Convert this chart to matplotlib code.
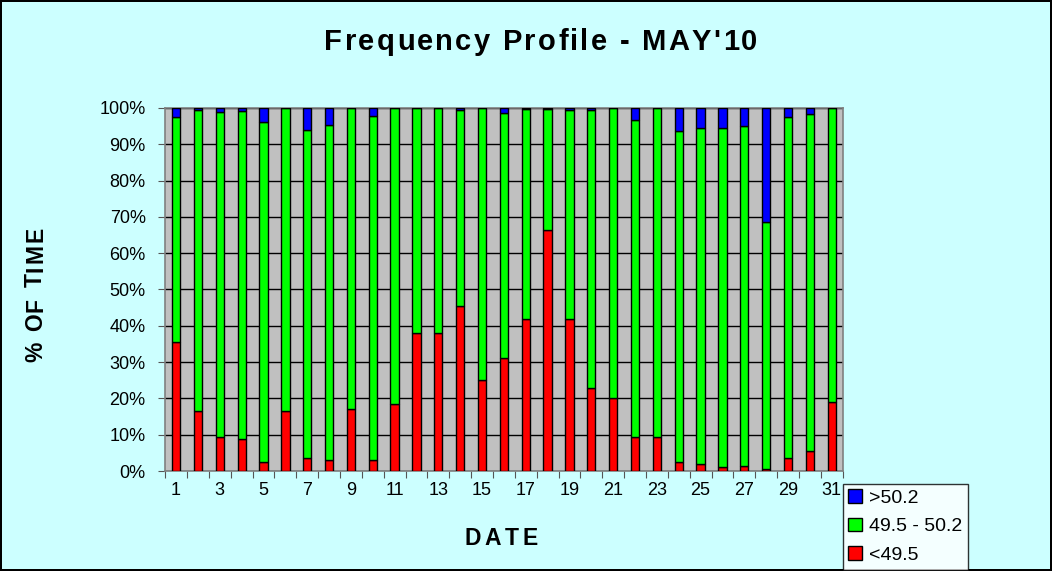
import numpy as np
import matplotlib
matplotlib.use("Agg")
from matplotlib import pyplot as plt
from matplotlib.ticker import FixedLocator, PercentFormatter
from matplotlib.transforms import IdentityTransform

plt.rcParams['font.family'] = ['Liberation Sans', 'DejaVu Sans']

dates = list(range(1, 32))
low = [35.5, 16.5, 9.5, 8.8, 2.5, 16.5, 3.5, 3.0, 17.0, 3.0, 18.5, 38.0, 38.0, 45.5, 25.0, 31.0,
       42.0, 66.5, 42.0, 23.0, 20.0, 9.5, 9.5, 2.5, 2.0, 1.0, 1.5, 0.5, 3.5, 5.5, 19.0]
high = [2.6, 0.7, 1.0, 0.8, 3.9, 0.0, 6.0, 4.7, 0.0, 2.2, 0.0, 0.0, 0.0, 0.5, 0.0, 1.3,
        0.3, 0.2, 0.6, 0.5, 0.0, 3.3, 0.0, 6.4, 5.6, 5.6, 5.1, 31.5, 2.6, 1.7, 0.0]
mid = [100 - a - b for a, b in zip(low, high)]


def spaced_text(fig, s, center, base, size, length, vertical=False):
    # excel-like letter spacing: place chars one by one in pixel coords
    r = fig.canvas.get_renderer()

    def width(txt):
        t = fig.text(0, 0, txt, fontsize=size, fontweight="bold")
        w = t.get_window_extent(r).width
        t.remove()
        return w

    ref = width("HH")
    widths = [width("H" + ch + "H") - ref for ch in s]
    gap = (length - sum(widths)) / (len(s) - 1)
    pos = center - length / 2
    for ch, w in zip(s, widths):
        if vertical:
            xy = (base, pos)
        else:
            xy = (pos, base)
        fig.text(*xy, ch, fontsize=size, fontweight="bold", transform=IdentityTransform(),
                 ha="left", va="baseline", rotation=90 if vertical else 0, rotation_mode="anchor")
        pos += w + gap


fig = plt.figure(figsize=(10.52, 5.71), dpi=100, facecolor="#CCFFFF",
                 edgecolor="black", linewidth=1.5)
ax = fig.add_axes([0.157, 0.175, 0.644, 0.636])
ax.set_facecolor("#C0C0C0")

x = np.arange(len(dates))
w = 0.38
ax.bar(x, low, w, color="#FF0000", edgecolor="black", linewidth=1, label="<49.5", zorder=3)
ax.bar(x, mid, w, bottom=low, color="#00FF00", edgecolor="black", linewidth=1,
       label="49.5 - 50.2", zorder=3)
ax.bar(x, high, w, bottom=np.array(low) + np.array(mid), color="#0000FF", edgecolor="black",
       linewidth=1, label=">50.2", zorder=3)

ax.set_xlim(-0.5, len(dates) - 0.5)
ax.set_ylim(0, 100)
ax.set_yticks(np.arange(0, 101, 10))
ax.yaxis.set_major_formatter(PercentFormatter(decimals=0))
ax.yaxis.grid(True, color="black", linewidth=1, zorder=1)
ax.set_axisbelow(True)

ax.xaxis.set_major_locator(FixedLocator(np.arange(-0.5, len(dates), 1)))
ax.set_xticklabels([])
ax.xaxis.set_minor_locator(FixedLocator(x[::2]))
ax.set_xticklabels([str(d) for d in dates[::2]], minor=True)
ax.tick_params(axis="x", which="major", length=5, color="#555555")
ax.tick_params(axis="x", which="minor", length=0, pad=8, labelsize=13)
ax.tick_params(axis="y", length=5, color="#555555", labelsize=13, pad=9)

for s in ax.spines.values():
    s.set_color("#808080")
    s.set_linewidth(1.2)

spaced_text(fig, "Frequency Profile - MAY'10", 541, 571 - 50, 21, 433)
spaced_text(fig, "% OF TIME", 571 - 294.5, 42, 16.5, 135, vertical=True)
spaced_text(fig, "DATE", 501, 571 - 545, 16.5, 73)

handles, labels = ax.get_legend_handles_labels()
leg = fig.legend(handles[::-1], labels[::-1], loc="upper left", bbox_to_anchor=(0.801, 0.153),
                 fontsize=14, frameon=True, fancybox=False, edgecolor="black",
                 handlelength=0.7, handleheight=0.7, handletextpad=0.35, borderpad=0.3,
                 labelspacing=0.55, borderaxespad=0)
leg.get_frame().set_linewidth(1)

fig.savefig("out.png", dpi=100, facecolor=fig.get_facecolor(), edgecolor=fig.get_edgecolor())
